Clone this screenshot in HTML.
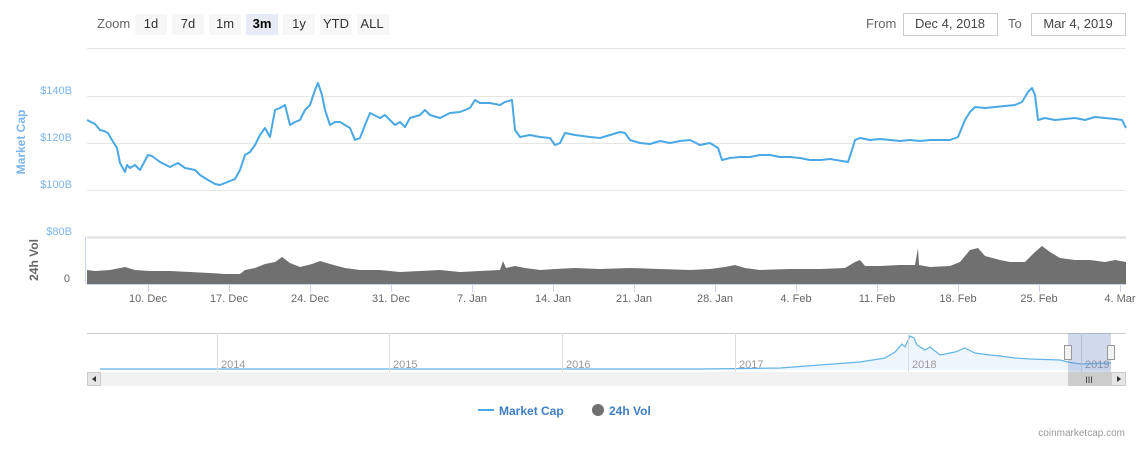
<!DOCTYPE html>
<html><head><meta charset="utf-8"><style>
body{margin:0;background:#fff;font-family:"Liberation Sans",sans-serif;}
svg text{font-family:"Liberation Sans",sans-serif;}
</style></head><body>
<svg width="1146" height="454" xmlns="http://www.w3.org/2000/svg">
<rect width="1146" height="454" fill="#fff"/>
<!-- toolbar -->
<text x="97" y="28" font-size="13" fill="#666">Zoom</text>
<g font-size="13" fill="#333" text-anchor="middle">
<rect x="135" y="14" width="32" height="21" fill="#f7f7f7"/><text x="151" y="28">1d</text>
<rect x="172" y="14" width="32" height="21" fill="#f7f7f7"/><text x="188" y="28">7d</text>
<rect x="209" y="14" width="32" height="21" fill="#f7f7f7"/><text x="225" y="28">1m</text>
<rect x="246" y="14" width="32" height="21" fill="#e6ebf5"/><text x="262" y="28" font-weight="bold" fill="#000">3m</text>
<rect x="283" y="14" width="32" height="21" fill="#f7f7f7"/><text x="299" y="28">1y</text>
<rect x="320" y="14" width="32" height="21" fill="#f7f7f7"/><text x="336" y="28">YTD</text>
<rect x="357" y="14" width="32" height="21" fill="#f7f7f7"/><text x="372" y="28">ALL</text>
</g>
<text x="866" y="28" font-size="13" fill="#666">From</text>
<rect x="903.5" y="13.5" width="94" height="22" fill="#fff" stroke="#ccc"/>
<text x="950" y="28" font-size="13" fill="#444" text-anchor="middle">Dec 4, 2018</text>
<text x="1008" y="28" font-size="13" fill="#666">To</text>
<rect x="1031.5" y="13.5" width="94" height="22" fill="#fff" stroke="#ccc"/>
<text x="1078" y="28" font-size="13" fill="#444" text-anchor="middle">Mar 4, 2019</text>
<!-- grid -->
<g stroke="#e6e6e6" stroke-width="1">
<line x1="87" y1="48.5" x2="1126" y2="48.5"/>
<line x1="87" y1="96.5" x2="1126" y2="96.5"/>
<line x1="87" y1="143.5" x2="1126" y2="143.5"/>
<line x1="87" y1="190.5" x2="1126" y2="190.5"/>
<line x1="87" y1="237.5" x2="1126" y2="237.5" stroke="#ddd" stroke-width="2"/>
</g>
<g font-size="11" fill="#7cb5ec" text-anchor="end">
<text x="72" y="94">$140B</text><text x="72" y="141">$120B</text><text x="72" y="188">$100B</text><text x="72" y="235">$80B</text>
</g>
<text x="0" y="0" font-size="12" font-weight="bold" fill="#7cb5ec" text-anchor="middle" transform="translate(25,142) rotate(-90)">Market Cap</text>
<text x="0" y="0" font-size="12" font-weight="bold" fill="#666" text-anchor="middle" transform="translate(38,260) rotate(-90)">24h Vol</text>
<text x="70" y="282" font-size="11" fill="#666" text-anchor="end">0</text>
<line x1="85.5" y1="237" x2="85.5" y2="284" stroke="#ccd6eb"/>
<!-- volume -->
<path d="M87,284 L87,270 L95,271 L110,270 L125,267 L135,270 L150,271 L170,271 L190,272 L210,273 L225,274 L240,274 L245,270 L255,268 L265,264 L275,262 L282,257 L290,263 L300,267 L312,264 L320,261 L330,264 L345,268 L360,270 L380,270 L400,272 L420,271 L440,270 L460,272 L480,271 L500,270 L503,261 L506,268 L515,266 L525,268 L540,270 L555,269 L575,268 L600,269 L630,268 L660,269 L690,270 L710,269 L725,267 L735,265 L745,268 L760,270 L790,269 L820,269 L845,268 L855,262 L860,260 L865,266 L880,266 L900,265 L915,265 L918,248 L919,265 L930,267 L950,266 L960,262 L970,250 L978,248 L985,256 L1000,260 L1010,262 L1025,262 L1035,252 L1042,246 L1050,252 L1060,258 L1075,260 L1090,260 L1105,262 L1115,260 L1126,262 L1126,284 Z" fill="#707070"/>
<line x1="87" y1="284.5" x2="1126" y2="284.5" stroke="#ccd6eb"/>
<!-- market cap line -->
<path d="M87,120 L95,124 L100,130 L104,131 L108,133 L112,140 L117,148 L120,163 L125,172 L127,165 L130,168 L135,165 L140,170 L148,155 L152,156 L160,162 L170,167 L178,163 L185,168 L195,170 L200,175 L208,180 L215,184 L220,185 L225,183 L235,179 L240,170 L245,155 L250,152 L255,145 L260,135 L265,128 L270,137 L275,110 L280,108 L285,105 L290,125 L295,122 L300,120 L305,110 L310,105 L315,90 L318,83 L322,95 L325,110 L330,125 L335,122 L340,122 L345,125 L350,128 L355,140 L360,138 L365,125 L370,113 L380,118 L385,115 L395,125 L400,122 L405,127 L410,118 L420,115 L425,110 L430,115 L440,118 L450,113 L460,112 L470,108 L475,100 L480,103 L490,103 L500,105 L505,102 L512,100 L515,130 L520,137 L530,135 L540,137 L550,138 L555,145 L560,143 L565,133 L575,135 L590,137 L600,138 L610,135 L620,132 L625,133 L630,140 L640,143 L650,144 L660,141 L670,143 L680,141 L690,140 L700,145 L710,143 L718,148 L722,160 L730,158 L740,157 L750,157 L760,155 L770,155 L780,157 L790,157 L800,158 L810,160 L820,160 L830,159 L848,162 L852,150 L855,140 L860,138 L870,140 L880,139 L890,140 L900,141 L910,140 L920,141 L930,140 L950,140 L958,137 L965,120 L970,112 L975,107 L985,108 L995,107 L1005,106 L1015,105 L1022,102 L1028,92 L1032,88 L1035,95 L1038,120 L1045,118 L1055,120 L1065,119 L1075,118 L1085,120 L1095,117 L1105,118 L1115,119 L1122,120 L1126,128" fill="none" stroke="#4aa8e4" stroke-width="2" stroke-linejoin="round"/>
<!-- x axis -->
<g stroke="#ccd6eb"><line x1="148.5" y1="285" x2="148.5" y2="292"/><line x1="229.5" y1="285" x2="229.5" y2="292"/><line x1="310.5" y1="285" x2="310.5" y2="292"/><line x1="391.5" y1="285" x2="391.5" y2="292"/><line x1="472.5" y1="285" x2="472.5" y2="292"/><line x1="553.5" y1="285" x2="553.5" y2="292"/><line x1="634.5" y1="285" x2="634.5" y2="292"/><line x1="715.5" y1="285" x2="715.5" y2="292"/><line x1="796.5" y1="285" x2="796.5" y2="292"/><line x1="877.5" y1="285" x2="877.5" y2="292"/><line x1="958.5" y1="285" x2="958.5" y2="292"/><line x1="1039.5" y1="285" x2="1039.5" y2="292"/><line x1="1120.5" y1="285" x2="1120.5" y2="292"/></g>
<g font-size="11" fill="#666" text-anchor="middle">
<text x="148" y="302">10. Dec</text><text x="229" y="302">17. Dec</text><text x="310" y="302">24. Dec</text><text x="391" y="302">31. Dec</text><text x="472" y="302">7. Jan</text><text x="553" y="302">14. Jan</text><text x="634" y="302">21. Jan</text><text x="715" y="302">28. Jan</text><text x="796" y="302">4. Feb</text><text x="877" y="302">11. Feb</text><text x="958" y="302">18. Feb</text><text x="1039" y="302">25. Feb</text><text x="1120" y="302">4. Mar</text>
</g>
<!-- navigator -->
<line x1="87" y1="333.5" x2="1126" y2="333.5" stroke="#ccc"/>
<path d="M100,370 L100,369 L300,369 L500,369 L700,369 L780,368 L820,365 L860,362 L885,358 L895,352 L902,344 L905,347 L910,336 L914,338 L917,345 L925,350 L930,347 L940,355 L955,352 L965,348 L975,353 L990,355 L1000,356 L1015,358 L1030,359 L1060,360 L1068,362 L1080,364 L1111,363 L1111,370 Z" fill="#eef5fc" stroke="none"/>
<path d="M100,369 L300,369 L500,369 L700,369 L780,368 L820,365 L860,362 L885,358 L895,352 L902,344 L905,347 L910,336 L914,338 L917,345 L925,350 L930,347 L940,355 L955,352 L965,348 L975,353 L990,355 L1000,356 L1015,358 L1030,359 L1060,360 L1068,362 L1080,364 L1111,363" fill="none" stroke="#63b5e8" stroke-width="1.2"/>
<g stroke="#ddd"><line x1="217.5" y1="333" x2="217.5" y2="372"/><line x1="389.5" y1="333" x2="389.5" y2="372"/><line x1="562.5" y1="333" x2="562.5" y2="372"/><line x1="735.5" y1="333" x2="735.5" y2="372"/><line x1="908.5" y1="333" x2="908.5" y2="372"/><line x1="1081.5" y1="333" x2="1081.5" y2="372"/></g>
<g font-size="11" fill="#999"><text x="221" y="368">2014</text><text x="393" y="368">2015</text><text x="566" y="368">2016</text><text x="739" y="368">2017</text><text x="912" y="368">2018</text><text x="1085" y="368">2019</text></g>
<rect x="1068" y="333" width="43" height="39" fill="rgba(102,133,194,0.3)"/>
<rect x="1064.5" y="345.5" width="7" height="14" fill="#f2f2f2" stroke="#999"/>
<rect x="1107.5" y="345.5" width="7" height="14" fill="#f2f2f2" stroke="#999"/>
<rect x="87" y="372" width="1039" height="14" fill="#f2f2f2"/>
<rect x="87.5" y="372.5" width="13" height="13" fill="#e6e6e6" stroke="#ccc"/>
<path d="M96,376 L92,379 L96,382 Z" fill="#333"/>
<rect x="1068" y="372" width="43" height="14" fill="#ccc"/>
<text x="1089" y="383" font-size="9" fill="#333" text-anchor="middle">III</text>
<rect x="1111.5" y="372.5" width="14" height="13" fill="#e6e6e6" stroke="#ccc"/>
<path d="M1117,376 L1121,379 L1117,382 Z" fill="#333"/>
<!-- legend -->
<line x1="478" y1="410" x2="494" y2="410" stroke="#4aa8e4" stroke-width="2"/>
<text x="499" y="415" font-size="12" font-weight="bold" fill="#3f7ec4">Market Cap</text>
<circle cx="598" cy="410" r="6" fill="#707070"/>
<text x="609" y="415" font-size="12" font-weight="bold" fill="#3f7ec4">24h Vol</text>
<text x="1125" y="436" font-size="10" fill="#999" text-anchor="end">coinmarketcap.com</text>
</svg>
</body></html>
